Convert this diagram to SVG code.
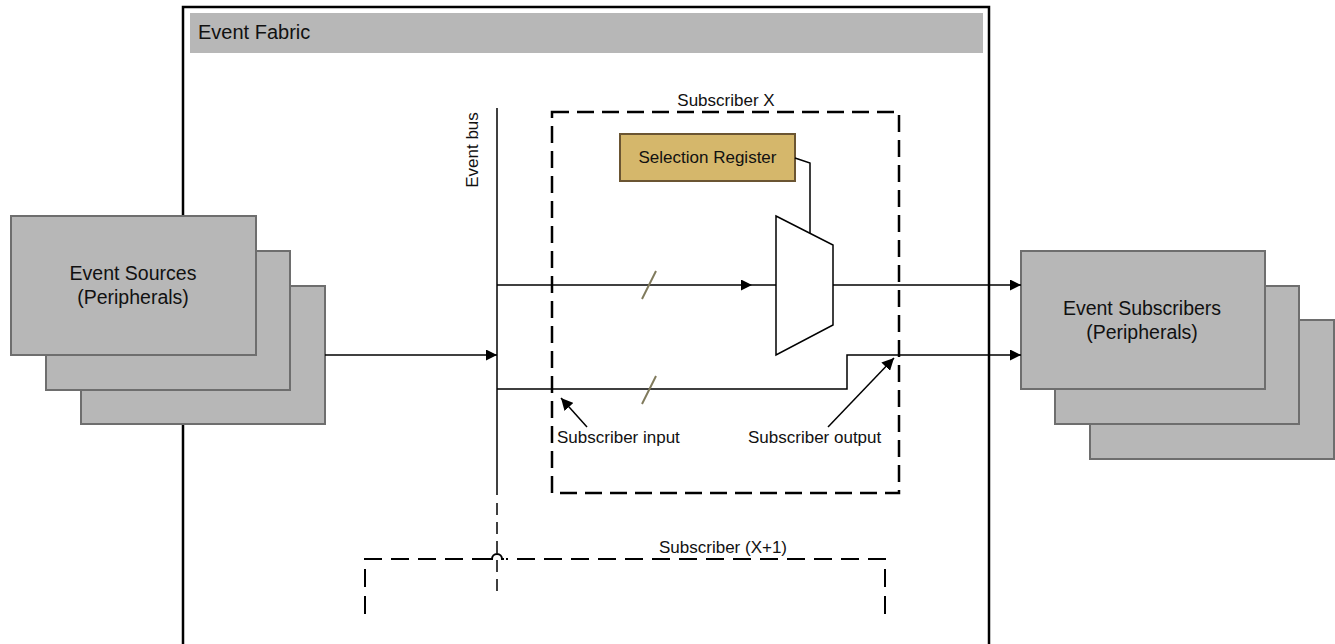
<svg xmlns="http://www.w3.org/2000/svg" width="1335" height="644" viewBox="0 0 1335 644">
<style>
text{font-family:"Liberation Sans",Arial,sans-serif;fill:#111}
.t17{font-size:17px}
.t19{font-size:19.5px}
.per{fill:#b7b7b7;stroke:#6e6e6e;stroke-width:2}
.wire{fill:none;stroke:#000;stroke-width:1.5}
.dash{fill:none;stroke:#000;stroke-width:2.5;stroke-dasharray:17 8}
.dash2{fill:none;stroke:#000;stroke-width:2;stroke-dasharray:18 9}
.slash{stroke:#807a5c;stroke-width:2}
</style>
<defs>
<marker id="arr" viewBox="0 0 10 10" refX="10" refY="5" markerWidth="11" markerHeight="11" markerUnits="userSpaceOnUse" orient="auto">
<path d="M0,0 L10,5 L0,10 Z" fill="#000"/>
</marker>
<marker id="arr2" viewBox="0 0 10 10" refX="10" refY="5" markerWidth="12" markerHeight="12" markerUnits="userSpaceOnUse" orient="auto">
<path d="M0,0 L10,5 L0,10 Z" fill="#000"/>
</marker>
</defs>
<rect width="1335" height="644" fill="#fff"/>

<g id="event-fabric">
<rect x="183" y="7" width="806" height="660" fill="none" stroke="#000" stroke-width="2.5"/>
<rect x="190" y="13" width="793" height="40" fill="#b7b7b7"/>
<text x="198" y="39" font-size="20">Event Fabric</text>
</g>

<g id="subscriber-x">
<rect class="dash" x="552" y="112" width="347" height="381"/>
<text class="t17" x="726" y="106" text-anchor="middle">Subscriber X</text>
</g>

<g id="subscriber-x1">
<path class="dash2" d="M365,614 V559 H490"/>
<path fill="none" stroke="#000" stroke-width="2" d="M490,559 H492 A5 5 0 0 1 502 559 H504"/>
<path class="dash2" d="M885,614 V559 H506"/>
<text class="t17" x="723" y="553" text-anchor="middle">Subscriber (X+1)</text>
</g>

<g id="event-bus">
<line x1="497" y1="108" x2="497" y2="495" stroke="#000" stroke-width="1.5"/>
<line x1="497" y1="503" x2="497" y2="596" stroke="#000" stroke-width="1.5" stroke-dasharray="12 7"/>
<text class="t17" transform="translate(478,150) rotate(-90)" text-anchor="middle">Event bus</text>
</g>

<g id="selection-register">
<rect x="620" y="134" width="175" height="47" fill="#d5b76b" stroke="#6b5532" stroke-width="2"/>
<text class="t17" x="707.5" y="163" text-anchor="middle">Selection Register</text>
</g>

<g id="mux">
<polygon points="776,216 833,245 833,325 776,355" fill="#fff" stroke="#000" stroke-width="1.5"/>
</g>

<g id="event-sources">
<rect class="per" x="81" y="286" width="244" height="138"/>
<rect class="per" x="46" y="251" width="244" height="139"/>
<rect class="per" x="11" y="216" width="245" height="139"/>
<text class="t19" x="133" y="280" text-anchor="middle">Event Sources</text>
<text class="t19" x="133" y="304" text-anchor="middle">(Peripherals)</text>
</g>

<g id="event-subscribers">
<rect class="per" x="1090" y="320" width="244" height="139"/>
<rect class="per" x="1055" y="286" width="244" height="138"/>
<rect class="per" x="1021" y="251" width="244" height="138"/>
<text class="t19" x="1142" y="315" text-anchor="middle">Event Subscribers</text>
<text class="t19" x="1142" y="339" text-anchor="middle">(Peripherals)</text>
</g>

<g id="connectors">
<path class="wire" d="M325,355 H497" marker-end="url(#arr)"/>
<path class="wire" d="M497,285 H752" marker-end="url(#arr)"/>
<path class="wire" d="M752,285 H776"/>
<path class="wire" d="M833,285 H1021" marker-end="url(#arr)"/>
<path class="wire" d="M497,389 H847 V355 H1021" marker-end="url(#arr)"/>
<path class="wire" d="M795,158 L810,163 V233"/>
<line class="slash" x1="642" y1="299" x2="656" y2="271"/>
<line class="slash" x1="642" y1="404" x2="656" y2="376"/>
<path class="wire" d="M587,427 L561,398" marker-end="url(#arr2)"/>
<path class="wire" d="M828,427 L894,358" marker-end="url(#arr2)"/>
</g>

<g id="labels">
<text class="t17" x="557" y="443">Subscriber input</text>
<text class="t17" x="748" y="443">Subscriber output</text>
</g>
</svg>
